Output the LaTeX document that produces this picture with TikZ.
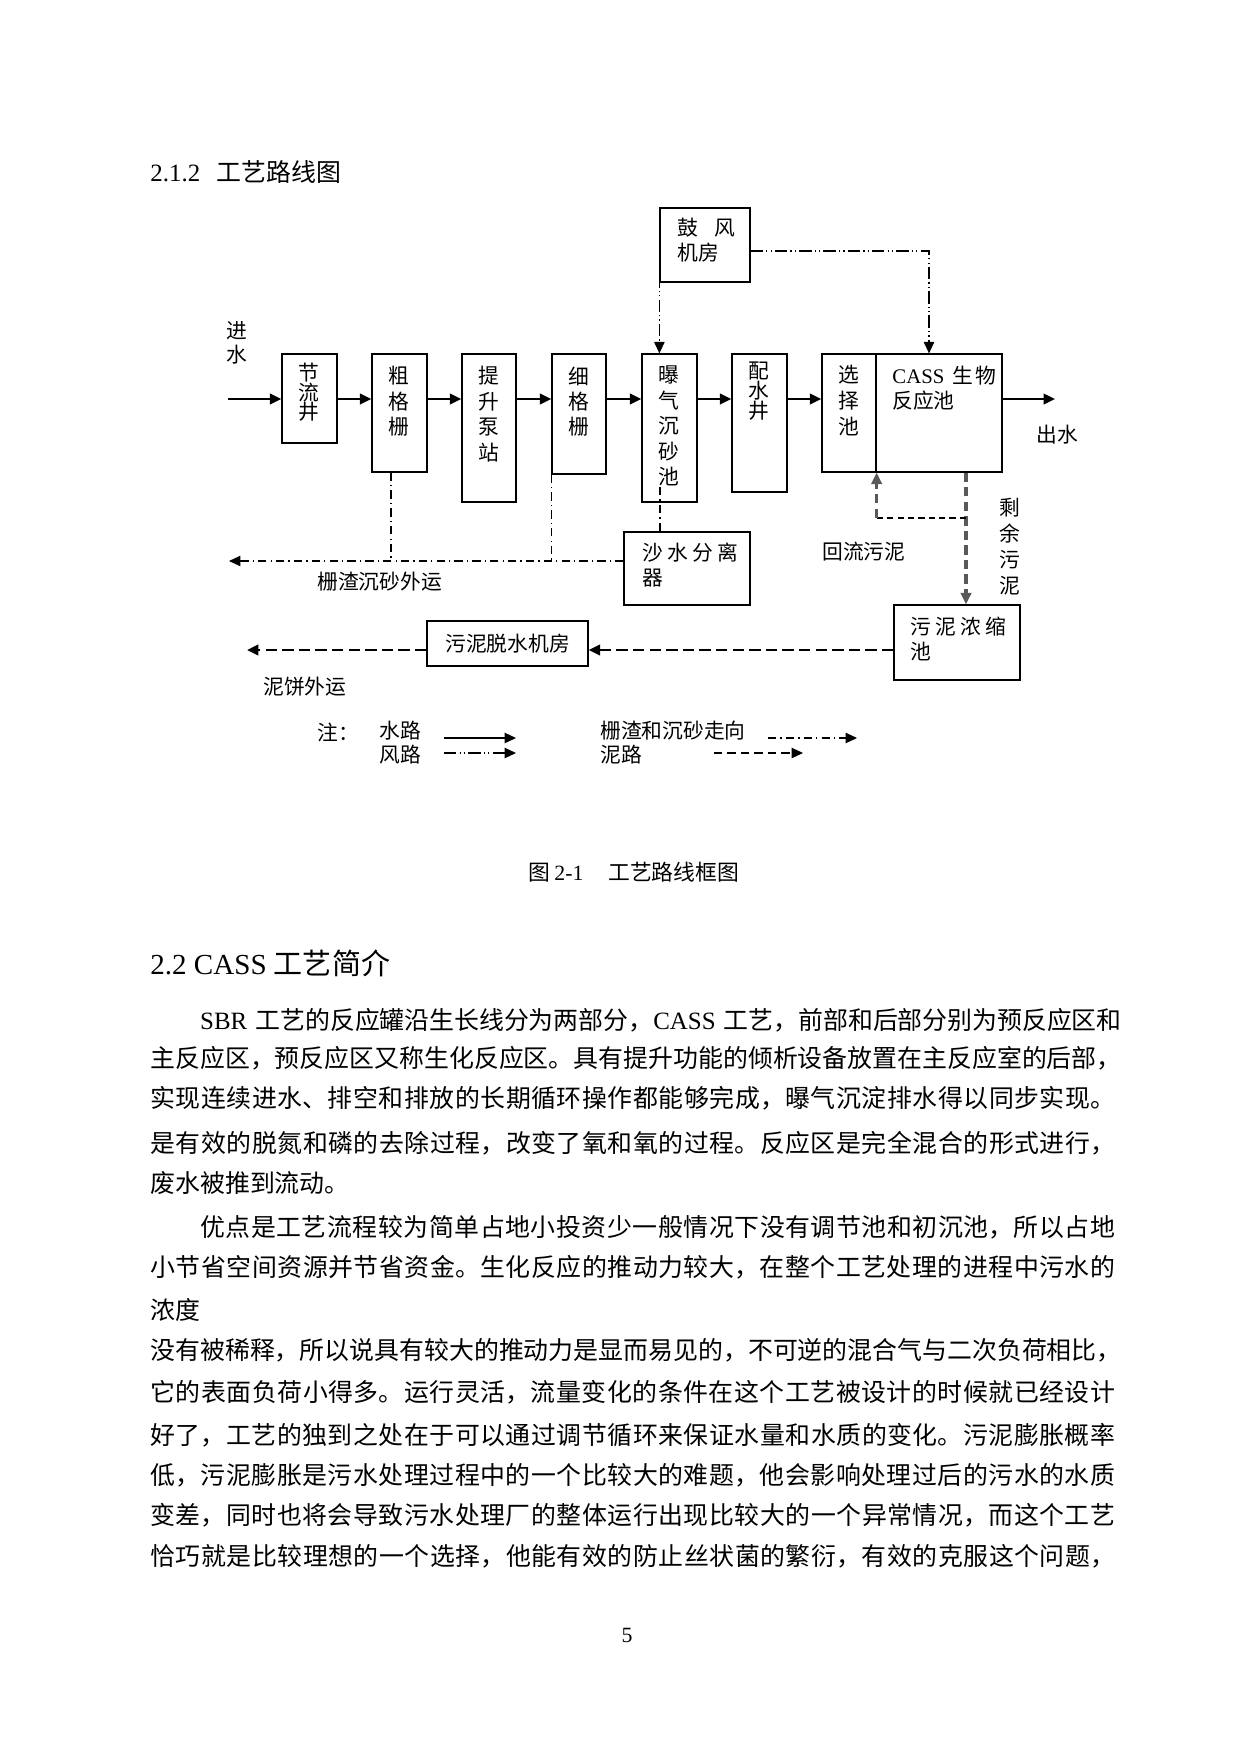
\documentclass[tikz,border=0pt]{standalone}
\usepackage{fontspec}
\setmainfont{Liberation Serif}
\newfontfamily\cjk{Noto Sans CJK SC}
\usetikzlibrary{arrows.meta,positioning}
\XeTeXlinebreaklocale "zh"
\XeTeXlinebreakskip=0pt plus 2pt minus 0.5pt

\def\pu{0.16935mm}
\newcommand\tnr[1]{{\rmfamily #1}}
% box from (x1,y1) to (x2,y2), in pixels of the page
\newcommand\procbox[5]{%
  \node[box, minimum width={(#4-#2)*\pu}, minimum height={(#5-#3)*\pu}] (#1) at ({(#2+#4)/2},{(#3+#5)/2}) {};}
% vertical text: name, x, first y, step, characters
\newcommand\vchars[5]{%
  \foreach \chr [count=\i from 0] in {#5}
    \node[lab] (#1-\i) at (#2,{#3+\i*#4}) {\chr};}

\tikzset{
  box/.style={draw, line width=0.6pt, inner sep=0pt},
  lab/.style={inner sep=0pt, font=\cjk\fontsize{10}{12}\selectfont},
  labw/.style={lab, anchor=west},
  tip/.style={-{Triangle[length=5.5pt,width=5pt]}},
  water/.style={tip, line width=1.2pt},
  air/.style={tip, line width=0.6pt, dash pattern=on 6pt off 1.5pt on 0.6pt off 1.5pt on 0.6pt off 1.5pt},
  grit/.style={line width=0.5pt, dash pattern=on 4pt off 2pt on 0.6pt off 2pt},
  sludge/.style={tip, line width=1.3pt, dash pattern=on 5.5pt off 2.5pt},
  back/.style={line width=1.6pt, draw=black!65, dash pattern=on 4.5pt off 2.5pt},
  bodyline/.style={anchor=west, inner sep=0pt, text width=468pt, font=\cjk\fontsize{12}{20}\selectfont},
  bodyshort/.style={anchor=west, inner sep=0pt, font=\cjk\fontsize{12}{20}\selectfont},
}

\begin{document}
\begin{tikzpicture}[x=0.16935mm, y=-0.16935mm]
\useasboundingbox (0,0) rectangle (1240,1754);

\node[anchor=west, inner sep=0pt, font=\fontsize{12}{14}\selectfont] (h212) at (150,172) {2.1.2\hspace{8pt}{\cjk 工艺路线图}};

% process boxes
\procbox{jie}{282}{354}{337}{443}
\procbox{cu}{372}{354}{427}{472}
\procbox{ti}{462}{354}{516}{502}
\procbox{xi}{552}{354}{606}{474}
\procbox{pu}{642}{354}{697}{502}
\procbox{pei}{732}{354}{787}{492}
\procbox{xuan}{822}{354}{876}{472}
\procbox{cass}{876}{354}{1002}{472}
\procbox{blow}{660}{208}{750}{282}
\procbox{sand}{624}{532}{750}{605}
\procbox{thick}{894}{605}{1020}{680}
\procbox{dew}{427}{621}{588}{666}

\vchars{jie-t}{309}{373}{19.5}{节,流,井}
\vchars{cu-t}{399}{376}{25.5}{粗,格,栅}
\vchars{ti-t}{489}{376}{25.5}{提,升,泵,站}
\vchars{xi-t}{579}{376}{25.5}{细,格,栅}
\vchars{pu-t}{669}{375}{25.5}{曝,气,沉,砂,池}
\vchars{pei-t}{759}{371}{20}{配,水,井}
\vchars{xuan-t}{849}{375}{26}{选,择,池}
\node[labw] (cass-t1) at (892,376) {\tnr{CASS}\hspace{4pt}生\hspace{1pt}物};
\node[labw] (cass-t2) at (892,401) {反应池};
\node[labw] (blow-t1) at (677,228) {鼓\hspace{8pt}风};
\node[labw] (blow-t2) at (677,253) {机房};
\node[labw] (sand-t1) at (642,553) {沙\hspace{2pt}水\hspace{2pt}分\hspace{2pt}离};
\node[labw] (sand-t2) at (642,578) {器};
\node[labw] (thick-t1) at (910,627) {污\hspace{2pt}泥\hspace{2pt}浓\hspace{2pt}缩};
\node[labw] (thick-t2) at (910,652) {池};
\node[lab] (dew-t) at (dew) {污泥脱水机房};

% labels
\vchars{jin}{237}{331}{24}{进,水}
\node[lab] (chu) at (1057,435) {出水};
\node[labw] (huiliu) at (822,552) {回流污泥};
\vchars{shengyu}{1010}{508}{26}{剩,余,污,泥}
\node[labw] (zhazha) at (317,582) {栅渣沉砂外运};
\node[labw] (nibing) at (263,687) {泥饼外运};

% water
\coordinate (in) at (228,399);
\coordinate (out) at (1055,399);
\draw[water] (in) -- (jie.west |- in);
\foreach \a/\b in {jie/cu, cu/ti, ti/xi, xi/pu, pu/pei, pei/xuan}
  \draw[water] (\a.east |- in) -- (\b.west |- in);
\draw[water] (cass.east |- in) -- (out);

% air
\coordinate (airR) at (929,251);
\draw[air] (blow.west |- airR) -- (blow.west |- pu.north);
\draw[air] (blow.east |- airR) -- (airR) -- (airR |- cass.north);

% screenings and grit
\coordinate (gritEnd) at (229,561);
\coordinate (cuDrop) at (391,561);
\coordinate (puDrop) at (660,487);
\draw[grit, tip] (sand.west |- gritEnd) -- (gritEnd);
\draw[grit] (cuDrop |- cu.south) -- (cuDrop);
\draw[grit] (xi.south west) -- (xi.south west |- gritEnd);
\draw[grit] (puDrop) -- (puDrop |- sand.north);

% sludge
\coordinate (rs) at (966,518);
\coordinate (cake) at (247,650);
\draw[back, tip] (rs |- cass.south) -- (rs |- thick.north);
\draw[line width=0.7pt, dash pattern=on 3pt off 2pt] (rs) -- (rs -| xuan.east);
\draw[back, tip] (rs -| xuan.east) -- (xuan.south east);
\draw[sludge] (thick.west |- cake) -- (dew.east |- cake);
\draw[sludge] (dew.west |- cake) -- (cake);

% legend
\node[labw] (zhu) at (317,732) {注：};
\node[labw] (shuilu) at (379,731) {水路};
\node[labw] (fenglu) at (379,755) {风路};
\node[labw] (zhalu) at (600,731) {栅渣和沉砂走向};
\node[labw] (nilu) at (600,755) {泥路};
\coordinate (lw1) at (444,738); \coordinate (lw2) at (516,738);
\coordinate (la1) at (444,753); \coordinate (la2) at (516,753);
\coordinate (lg1) at (768,738); \coordinate (lg2) at (857,738);
\coordinate (ls1) at (714,753); \coordinate (ls2) at (803,753);
\draw[tip, line width=0.7pt] (lw1) -- (lw2);
\draw[air] (la1) -- (la2);
\draw[grit, tip] (lg1) -- (lg2);
\draw[tip, line width=0.6pt, dash pattern=on 4pt off 2.5pt] (ls1) -- (ls2);

\node[anchor=west, inner sep=0pt, font=\cjk\fontsize{10.5}{12}\selectfont] (cap) at (528,872) {图\hspace{2pt}\tnr{2-1}\hspace{12pt}工艺路线框图};

\node[anchor=west, inner sep=0pt, font=\fontsize{14}{16}\selectfont] (h22) at (150,963) {2.2 CASS {\cjk 工艺简介}};

% body text
\node[bodyline] (l1) at (150,1020) {\parfillskip=0pt \hspace*{2em}\tnr{SBR} 工艺的反应罐沿生长线分为两部分，\tnr{CASS} 工艺，前部和后部分别为预反应区和\par};
\node[bodyline] (l2) at (150,1058) {\parfillskip=0pt 主反应区，预反应区又称生化反应区。具有提升功能的倾析设备放置在主反应室的后部，\par};
\node[bodyline] (l3) at (150,1098) {\parfillskip=0pt 实现连续进水、排空和排放的长期循环操作都能够完成，曝气沉淀排水得以同步实现。\par};
\node[bodyline] (l4) at (150,1143) {\parfillskip=0pt 是有效的脱氮和磷的去除过程，改变了氧和氧的过程。反应区是完全混合的形式进行，\par};
\node[bodyshort] (l5) at (150,1183) {废水被推到流动。};
\node[bodyline] (l6) at (150,1227) {\parfillskip=0pt \hspace*{2em}优点是工艺流程较为简单占地小投资少一般情况下没有调节池和初沉池，所以占地\par};
\node[bodyline] (l7) at (150,1267) {\parfillskip=0pt 小节省空间资源并节省资金。生化反应的推动力较大，在整个工艺处理的进程中污水的\par};
\node[bodyshort] (l8) at (150,1310) {浓度};
\node[bodyline] (l9) at (150,1350) {\parfillskip=0pt 没有被稀释，所以说具有较大的推动力是显而易见的，不可逆的混合气与二次负荷相比，\par};
\node[bodyline] (l10) at (150,1392) {\parfillskip=0pt 它的表面负荷小得多。运行灵活，流量变化的条件在这个工艺被设计的时候就已经设计\par};
\node[bodyline] (l11) at (150,1435) {\parfillskip=0pt 好了，工艺的独到之处在于可以通过调节循环来保证水量和水质的变化。污泥膨胀概率\par};
\node[bodyline] (l12) at (150,1475) {\parfillskip=0pt 低，污泥膨胀是污水处理过程中的一个比较大的难题，他会影响处理过后的污水的水质\par};
\node[bodyline] (l13) at (150,1515) {\parfillskip=0pt 变差，同时也将会导致污水处理厂的整体运行出现比较大的一个异常情况，而这个工艺\par};
\node[bodyline] (l14) at (150,1556) {\parfillskip=0pt 恰巧就是比较理想的一个选择，他能有效的防止丝状菌的繁衍，有效的克服这个问题，\par};

\node[inner sep=0pt, font=\fontsize{10.5}{12}\selectfont] (pg) at (627,1635) {5};
\end{tikzpicture}
\end{document}
